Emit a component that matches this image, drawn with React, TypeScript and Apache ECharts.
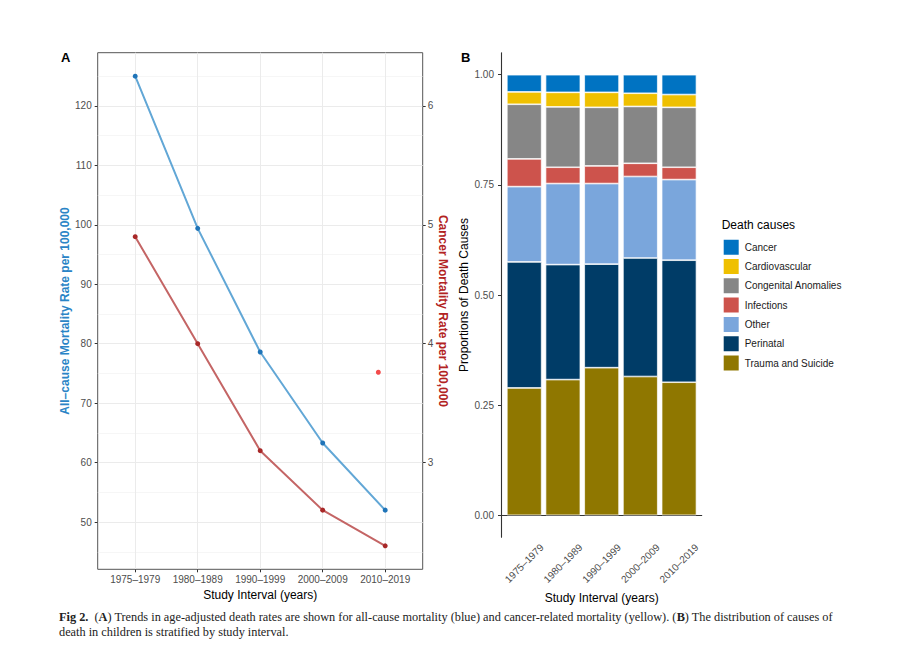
import React, { useEffect, useRef } from "react";
import * as echarts from "echarts";

const periods = ["1975–1979", "1980–1989", "1990–1999", "2000–2009", "2010–2019"];

// panel A
const allCause = [125, 99.4, 78.6, 63.3, 52];
const cancerRate = [4.9, 4.0, 3.1, 2.6, 2.3];
const extraPoint = [4.89, 3.76];
const leftTicks = [50, 60, 70, 80, 90, 100, 110, 120];
const leftMinor = [45, 55, 65, 75, 85, 95, 105, 115, 125];
const rightTicks = [3, 4, 5, 6];
const periodPos = [1, 2, 3, 4, 5];

// panel B (bottom to top of each bar)
const causes = [
  "Trauma and Suicide",
  "Perinatal",
  "Other",
  "Infections",
  "Congenital Anomalies",
  "Cardiovascular",
  "Cancer",
];
const trauma = [0.289, 0.308, 0.335, 0.315, 0.302];
const perinatal = [0.286, 0.261, 0.235, 0.269, 0.277];
const other = [0.171, 0.184, 0.183, 0.185, 0.183];
const infections = [0.063, 0.037, 0.04, 0.03, 0.028];
const congenital = [0.124, 0.137, 0.133, 0.129, 0.136];
const cardiovascular = [0.028, 0.033, 0.034, 0.03, 0.029];
const cancer = [0.039, 0.04, 0.04, 0.042, 0.045];
const propTicks = [0, 0.25, 0.5, 0.75, 1];

const causeColors = ["#8F7700", "#003C67", "#7AA6DC", "#CD534C", "#868686", "#EFC000", "#0073C2"];

const FONT = "Liberation Sans";

const App: React.FC = () => {
  const chartRef = useRef<HTMLDivElement>(null);

  useEffect(() => {
    document.body.style.margin = "0";
    if (!chartRef.current) return;
    const chart = echarts.init(chartRef.current, undefined, { renderer: "svg" });

    const causeData = [trauma, perinatal, other, infections, congenital, cardiovascular, cancer];
    const tickLabel = { color: "#4D4D4D", fontSize: 10, fontFamily: FONT };

    const option: echarts.EChartsOption = {
      animation: false,
      backgroundColor: "#fff",
      textStyle: { fontFamily: FONT },
      grid: [
        { left: 97.7, top: 52.7, width: 325, height: 516.6, show: true, borderColor: "#555", borderWidth: 1 },
        { left: 504.9, top: 52.7, width: 193.5, height: 484.6 },
        { left: 501, top: 52.7, width: 200.7, height: 484.6 },
      ],
      xAxis: [
        {
          type: "value",
          gridIndex: 0,
          min: 0.4,
          max: 5.6,
          name: "Study Interval (years)",
          nameLocation: "middle",
          nameGap: 17,
          nameTextStyle: { color: "#000", fontSize: 12 },
          axisLine: { show: false },
          axisTick: { customValues: periodPos, length: 3, lineStyle: { color: "#333" } },
          axisLabel: {
            customValues: periodPos,
            ...tickLabel,
            margin: 5,
            formatter: (v: number) => periods[Math.round(v) - 1] ?? "",
          },
          splitLine: { show: true, lineStyle: { color: "#EBEBEB", width: 1 } },
        },
        {
          type: "category",
          gridIndex: 1,
          data: periods,
          name: "Study Interval (years)",
          nameLocation: "middle",
          nameGap: 41,
          nameTextStyle: { color: "#000", fontSize: 12 },
          axisLine: { show: false },
          axisTick: { alignWithLabel: true, length: 3, lineStyle: { color: "#333" } },
          axisLabel: {
            ...tickLabel,
            rotate: 45,
            align: "center",
            verticalAlign: "middle",
            margin: 26,
            interval: 0,
          },
        },
        {
          type: "value",
          gridIndex: 2,
          min: 0,
          max: 1,
          axisLine: { show: true, lineStyle: { color: "#333", width: 1.1 } },
          axisTick: { show: false },
          axisLabel: { show: false },
          splitLine: { show: false },
        },
      ],
      yAxis: [
        {
          type: "value",
          gridIndex: 0,
          position: "left",
          min: 42.05,
          max: 128.95,
          name: "All–cause Mortality Rate per 100,000",
          nameLocation: "middle",
          nameRotate: 90,
          nameGap: 27,
          nameTextStyle: { color: "#2A84C6", fontSize: 12, fontWeight: "bold" },
          axisLine: { show: false },
          axisTick: { customValues: leftTicks, length: 3, lineStyle: { color: "#333" } },
          axisLabel: { customValues: leftTicks, ...tickLabel, margin: 6 },
          splitLine: { show: true, lineStyle: { color: "#EBEBEB", width: 1 } },
        },
        {
          type: "value",
          gridIndex: 0,
          position: "right",
          min: 42.05 / 20,
          max: 128.95 / 20,
          name: "Cancer Mortality Rate per 100,000",
          nameLocation: "middle",
          nameRotate: -90,
          nameGap: 14,
          nameTextStyle: { color: "#B22222", fontSize: 12, fontWeight: "bold" },
          axisLine: { show: false },
          axisTick: { customValues: rightTicks, length: 3, lineStyle: { color: "#333" } },
          axisLabel: { customValues: rightTicks, ...tickLabel, margin: 5 },
          splitLine: { show: false },
        },
        {
          type: "value",
          gridIndex: 0,
          position: "left",
          min: 42.05,
          max: 128.95,
          axisLine: { show: false },
          axisTick: { show: false, customValues: leftMinor },
          axisLabel: { show: false, customValues: leftMinor },
          splitLine: { show: true, lineStyle: { color: "#F0F0F0", width: 0.6 } },
        },
        {
          type: "value",
          gridIndex: 1,
          min: -0.05,
          max: 1.05,
          show: false,
        },
        {
          type: "value",
          gridIndex: 2,
          min: -0.05,
          max: 1.05,
          name: "Proportions of Death Causes",
          nameLocation: "middle",
          nameRotate: 90,
          nameGap: 31,
          nameTextStyle: { color: "#000", fontSize: 12 },
          axisLine: { show: true, lineStyle: { color: "#333", width: 1.1 } },
          axisTick: { customValues: propTicks, length: 3, lineStyle: { color: "#333" } },
          axisLabel: {
            customValues: propTicks,
            ...tickLabel,
            margin: 7,
            formatter: (v: number) => v.toFixed(2),
          },
          splitLine: { show: false },
        },
      ],
      legend: {
        data: [...causes].reverse(),
        orient: "vertical",
        left: 721.7,
        top: 237.7,
        padding: 0,
        itemWidth: 17,
        itemHeight: 17,
        itemGap: 0.3,
        icon: "rect",
        selectedMode: false,
        textStyle: { fontSize: 10, color: "#1A1A1A" },
      },
      graphic: [
        { type: "text", left: 61, top: 51, style: { text: "A", font: `bold 13px ${FONT}`, fill: "#000" } },
        { type: "text", left: 461, top: 51, style: { text: "B", font: `bold 13px ${FONT}`, fill: "#000" } },
        {
          type: "text",
          left: 721.7,
          top: 219,
          style: { text: "Death causes", font: `12px ${FONT}`, fill: "#000" },
        },
        {
          type: "text",
          left: 59,
          top: 609,
          style: {
            text:
              "{b|Fig 2.}  ({b|A}) Trends in age-adjusted death rates are shown for all-cause mortality (blue) and cancer-related mortality (yellow). ({b|B}) The distribution of causes of\ndeath in children is stratified by study interval.",
            font: "12.3px Liberation Serif",
            fill: "#222",
            lineHeight: 15.6,
            rich: {
              b: { font: "bold 12.3px Liberation Serif", fill: "#222", lineHeight: 15.6 },
            },
          },
        },
      ],
      series: [
        {
          name: "All-cause",
          type: "line",
          xAxisIndex: 0,
          yAxisIndex: 0,
          data: allCause.map((v, i) => [periodPos[i], v]),
          lineStyle: { color: "#62A7D6", width: 2 },
          itemStyle: { color: "#1F74B8" },
          symbol: "circle",
          symbolSize: 5,
        },
        {
          name: "Cancer rate",
          type: "line",
          xAxisIndex: 0,
          yAxisIndex: 1,
          data: cancerRate.map((v, i) => [periodPos[i], v]),
          lineStyle: { color: "#C46565", width: 2 },
          itemStyle: { color: "#A82828" },
          symbol: "circle",
          symbolSize: 5,
        },
        {
          name: "Extra",
          type: "scatter",
          xAxisIndex: 0,
          yAxisIndex: 1,
          data: [extraPoint],
          itemStyle: { color: "#F01E1E" },
          symbolSize: 5,
        },
        ...causes.map((name, k) => ({
          name,
          type: "bar" as const,
          stack: "total",
          xAxisIndex: 1,
          yAxisIndex: 3,
          barWidth: "90%",
          data: causeData[k],
          itemStyle: { color: causeColors[k], borderColor: "#fff", borderWidth: 0.7 },
        })),
      ],
    };

    chart.setOption(option);
    return () => {
      chart.dispose();
    };
  }, []);

  return <div ref={chartRef} style={{ width: 902, height: 657 }} />;
};

export default App;
